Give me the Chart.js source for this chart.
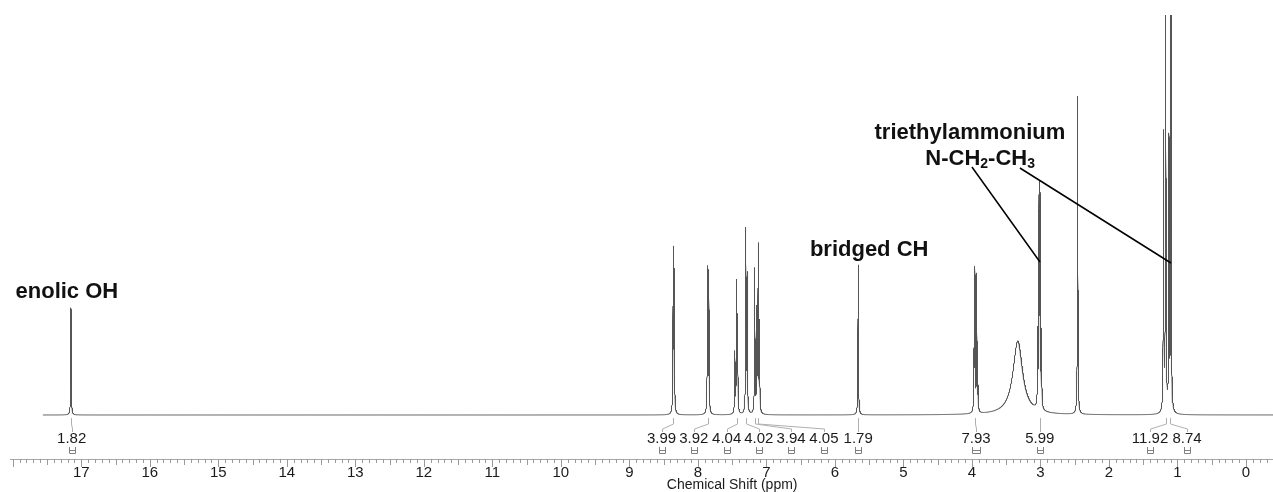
<!DOCTYPE html>
<html>
<head>
<meta charset="utf-8">
<script src="https://cdn.jsdelivr.net/npm/chart.js@4.4.0/dist/chart.umd.min.js"></script>
<style>
  html, body { margin: 0; padding: 0; background: #fff; }
</style>
</head>
<body>
<canvas id="nmrChart" width="1273" height="492"></canvas>
<script>
// peak list (ppm, height, linewidth in ppm)
const peakPpm    = [17.15, 8.36, 8.345, 7.86, 7.84, 7.46, 7.435, 7.42, 7.30, 7.28, 7.17, 7.14, 7.12, 7.10,
                    5.66, 3.97, 3.956, 3.93, 3.91, 3.33, 3.04, 3.02, 3.005, 2.985, 2.457,
                    1.204, 1.172, 1.124, 1.095];
const peakHeight = [26.8, 40, 34, 36, 35, 15, 32, 23, 45.5, 34, 36, 25, 41, 22,
                    37.5, 13.5, 35, 34, 5.5, 18.5, 18, 53, 50, 18, 79.5,
                    69, 130, 67, 130];
const peakWidth  = [0.008, 0.008, 0.008, 0.008, 0.008, 0.008, 0.008, 0.008, 0.008, 0.008, 0.008, 0.008, 0.008, 0.008,
                    0.008, 0.008, 0.008, 0.008, 0.008, 0.17, 0.008, 0.008, 0.008, 0.008, 0.008,
                    0.008, 0.008, 0.008, 0.008];

// integrals
const integralValues  = ['1.82', '3.99', '3.92', '4.04', '4.02', '3.94', '4.05', '1.79', '7.93', '5.99', '11.92', '8.74'];
const integralPeakPpm = [17.15, 8.36, 7.85, 7.43, 7.30, 7.16, 7.12, 5.66, 3.95, 3.01, 1.17, 1.11];

// axis
const tickLabels = ['17', '16', '15', '14', '13', '12', '11', '10', '9', '8', '7', '6', '5', '4', '3', '2', '1', '0'];
const axisTitle = 'Chemical Shift (ppm)';

// annotation texts
const annotationTexts = ['enolic OH', 'bridged CH', 'triethylammonium'];

const specStart = 17.56;
const specEnd = -0.40;

function buildSpectrum() {
    let xs = [];
    for (let v = specStart; v >= specEnd; v -= 0.01) xs.push(v);
    // finer sampling around each line
    peakPpm.forEach((p, i) => {
        const r = Math.max(0.1, peakWidth[i] * 5);
        for (let v = p - r; v <= p + r; v += 0.0005) xs.push(v);
        xs.push(p);
    });
    xs = xs.filter(v => v <= specStart && v >= specEnd).sort((a, b) => b - a);
    return xs.map(x => {
        let y = 0;
        for (let i = 0; i < peakPpm.length; i++) {
            const hw = peakWidth[i] / 2;
            const d = x - peakPpm[i];
            y += peakHeight[i] * hw * hw / (d * d + hw * hw);
        }
        return { x: x, y: y };
    });
}

const FONT = "'Liberation Sans', Arial, sans-serif";

// draws ppm axis, integrals and labels
const decorPlugin = {
    id: 'decor',
    afterDraw(chart) {
        const ctx = chart.ctx;
        const xs = chart.scales.x;
        const ys = chart.scales.y;
        const area = chart.chartArea;
        const baseY = ys.getPixelForValue(0);
        ctx.save();

        // --- axis line + ticks
        const axisY = baseY + 44;
        ctx.strokeStyle = '#a8a8a8';
        ctx.lineWidth = 1;
        ctx.beginPath();
        ctx.moveTo(area.left, axisY + 0.5);
        ctx.lineTo(area.right, axisY + 0.5);
        ctx.stroke();
        const lo = Math.ceil(xs.min * 10), hi = Math.floor(xs.max * 10);
        ctx.strokeStyle = '#9a9a9a';
        ctx.beginPath();
        for (let k = lo; k <= hi; k++) {
            const px = Math.round(xs.getPixelForValue(k / 10)) + 0.5;
            let len = 4;
            if (k % 10 === 0) len = 8;
            else if (k % 5 === 0) len = 6;
            ctx.moveTo(px, axisY);
            ctx.lineTo(px, axisY + len);
        }
        ctx.stroke();

        ctx.fillStyle = '#1a1a1a';
        ctx.font = '15px ' + FONT;
        ctx.textAlign = 'center';
        ctx.textBaseline = 'middle';
        tickLabels.forEach(t => {
            ctx.fillText(t, xs.getPixelForValue(parseFloat(t)), axisY + 14);
        });
        ctx.font = '14px ' + FONT;
        ctx.fillText(axisTitle, xs.getPixelForValue(7.5), axisY + 26);

        // --- integral labels with leaders
        const labelPpm = [17.14, 8.53, 8.06, 7.58, 7.11, 6.64, 6.16, 5.66, 3.94, 3.01, 1.40, 0.86];
        ctx.strokeStyle = '#b0b0b0';
        ctx.lineWidth = 1;
        integralValues.forEach((txt, i) => {
            const pX = Math.round(xs.getPixelForValue(integralPeakPpm[i])) + 0.5;
            const lX = Math.round(xs.getPixelForValue(labelPpm[i])) + 0.5;
            ctx.beginPath();
            ctx.moveTo(pX, baseY + 3);
            ctx.lineTo(pX, baseY + 9);
            ctx.lineTo(lX, baseY + 14);
            ctx.lineTo(lX, baseY + 17);
            ctx.stroke();
        });
        ctx.fillStyle = '#1a1a1a';
        ctx.font = '15px ' + FONT;
        integralValues.forEach((txt, i) => {
            ctx.fillText(txt, xs.getPixelForValue(labelPpm[i]), baseY + 24);
        });
        // small brackets
        ctx.strokeStyle = '#808080';
        integralValues.forEach((txt, i) => {
            const lX = Math.round(xs.getPixelForValue(labelPpm[i]));
            const w = i === 8 ? 4 : 3;
            ctx.beginPath();
            ctx.moveTo(lX - w + 0.5, baseY + 32);
            ctx.lineTo(lX - w + 0.5, baseY + 38.5);
            ctx.lineTo(lX + w + 0.5, baseY + 38.5);
            ctx.lineTo(lX + w + 0.5, baseY + 32);
            ctx.moveTo(lX - w + 0.5, baseY + 35.5);
            ctx.lineTo(lX + w + 0.5, baseY + 35.5);
            ctx.stroke();
        });

        // --- annotations
        ctx.fillStyle = '#111';
        ctx.font = 'bold 22px ' + FONT;
        ctx.fillText(annotationTexts[0], xs.getPixelForValue(17.21), ys.getPixelForValue(30.75));
        ctx.fillText(annotationTexts[1], xs.getPixelForValue(5.50), ys.getPixelForValue(41.25));
        ctx.fillText(annotationTexts[2], xs.getPixelForValue(4.03), ys.getPixelForValue(70.5));

        // N-CH2-CH3 with subscripts
        const parts = [['N-CH', false], ['2', true], ['-CH', false], ['3', true]];
        const big = 'bold 22px ' + FONT, small = 'bold 14px ' + FONT;
        let total = 0;
        parts.forEach(p => { ctx.font = p[1] ? small : big; total += ctx.measureText(p[0]).width; });
        let cx = xs.getPixelForValue(3.88) - total / 2;
        const cy = ys.getPixelForValue(64);
        ctx.textAlign = 'left';
        parts.forEach(p => {
            ctx.font = p[1] ? small : big;
            ctx.fillText(p[0], cx, p[1] ? cy + 5 : cy);
            cx += ctx.measureText(p[0]).width;
        });

        // pointer lines
        ctx.strokeStyle = '#000';
        ctx.lineWidth = 1.5;
        ctx.beginPath();
        ctx.moveTo(xs.getPixelForValue(4.0), ys.getPixelForValue(62));
        ctx.lineTo(xs.getPixelForValue(3.007), ys.getPixelForValue(38.25));
        ctx.moveTo(xs.getPixelForValue(3.30), ys.getPixelForValue(61.75));
        ctx.lineTo(xs.getPixelForValue(1.095), ys.getPixelForValue(38));
        ctx.stroke();

        ctx.restore();
    }
};

const ctx = document.getElementById('nmrChart').getContext('2d');

const config = {
    type: 'line',
    data: {
        datasets: [{
            data: buildSpectrum(),
            borderColor: '#555555',
            borderWidth: 1,
            pointRadius: 0,
            tension: 0,
            fill: false
        }]
    },
    options: {
        responsive: false,
        animation: false,
        parsing: false,
        normalized: true,
        layout: {
            padding: { left: 10, right: 0, top: 15, bottom: 0 }
        },
        scales: {
            x: {
                type: 'linear',
                reverse: true,
                min: -0.394,
                max: 18.04,
                display: false
            },
            y: {
                min: -19.25,
                max: 100,
                display: false
            }
        },
        plugins: {
            legend: { display: false },
            tooltip: { enabled: false }
        }
    },
    plugins: [decorPlugin]
};

new Chart(ctx, config);
</script>
</body>
</html>
